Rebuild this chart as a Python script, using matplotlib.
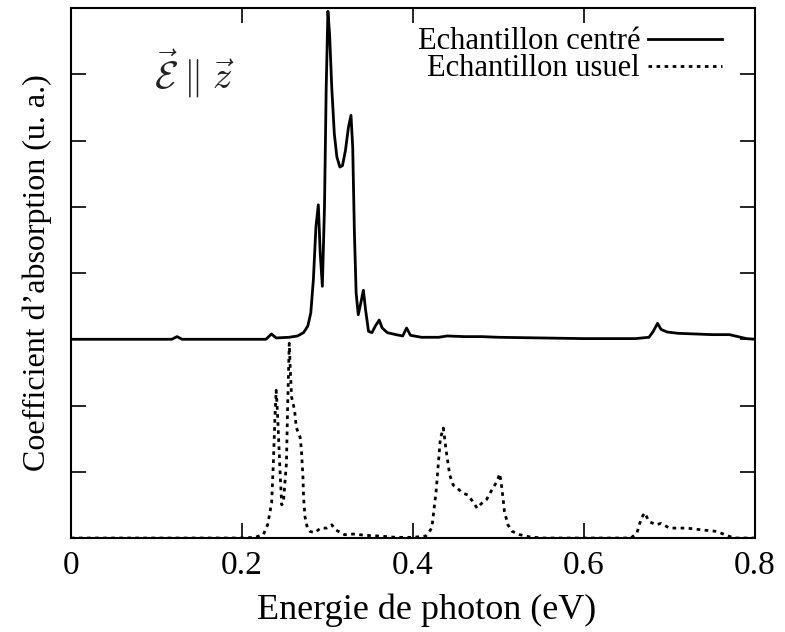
"""
Absorption spectra, E parallel to z: centred sample vs usual sample.
Output: out.png
"""

import matplotlib
matplotlib.use("Agg")
import matplotlib.pyplot as plt
from matplotlib.lines import Line2D

# Photon energy (eV) and absorption (a.u.), centred sample (offset by 3)
energy_centre = [
    0.0, 0.10, 0.118, 0.124, 0.13, 0.20, 0.228, 0.2345, 0.24, 0.255,
    0.265, 0.272, 0.277, 0.2805, 0.2835, 0.2865, 0.2893, 0.2915, 0.294, 0.2965,
    0.2985, 0.3005, 0.3025, 0.305, 0.308, 0.311, 0.3145, 0.3175, 0.321, 0.3245,
    0.3275, 0.3295, 0.3315, 0.3335, 0.336, 0.339, 0.342, 0.3445, 0.348, 0.352,
    0.356, 0.3605, 0.364, 0.37, 0.38, 0.388, 0.3925, 0.397, 0.41, 0.43,
    0.44, 0.46, 0.48, 0.50, 0.55, 0.60, 0.66, 0.676, 0.681, 0.686,
    0.69, 0.697, 0.71, 0.73, 0.75, 0.77, 0.78, 0.79, 0.80,
]
absorb_centre = [
    3.0, 3.0, 3.0, 3.04, 3.0, 3.0, 3.0, 3.08, 3.02, 3.03,
    3.05, 3.1, 3.2, 3.4, 3.9, 4.7, 5.03, 4.3, 3.8, 5.0,
    6.8, 7.95, 7.6, 6.8, 6.1, 5.75, 5.6, 5.62, 5.85, 6.2,
    6.38, 5.9, 4.6, 3.7, 3.37, 3.55, 3.74, 3.45, 3.12, 3.1,
    3.2, 3.29, 3.17, 3.1, 3.07, 3.05, 3.17, 3.06, 3.03, 3.03,
    3.05, 3.04, 3.04, 3.03, 3.02, 3.01, 3.01, 3.03, 3.12, 3.24,
    3.15, 3.11, 3.09, 3.08, 3.07, 3.07, 3.04, 3.01, 3.0,
]

# Usual sample
energy_usuel = [
    0.0, 0.20, 0.215, 0.225, 0.23, 0.2347, 0.2367, 0.2385, 0.2400, 0.2415,
    0.2444, 0.2465, 0.2485, 0.252, 0.2533, 0.2553, 0.2565, 0.258, 0.2615, 0.2635,
    0.268, 0.2695, 0.2713, 0.272, 0.2737, 0.2765, 0.2795, 0.285, 0.292, 0.299,
    0.305, 0.31, 0.32, 0.33, 0.345, 0.36, 0.38, 0.40, 0.415, 0.422,
    0.427, 0.432, 0.4355, 0.439, 0.443, 0.447, 0.452, 0.458, 0.464, 0.47,
    0.475, 0.48, 0.486, 0.492, 0.498, 0.5015, 0.504, 0.507, 0.511, 0.516,
    0.525, 0.535, 0.55, 0.60, 0.655, 0.662, 0.667, 0.671, 0.676, 0.684,
    0.69, 0.70, 0.72, 0.74, 0.755, 0.765, 0.775, 0.80,
]
absorb_usuel = [
    0.0, 0.0, 0.01, 0.05, 0.2, 0.53, 1.13, 1.8, 2.23, 1.9,
    1.03, 0.5, 0.55, 1.13, 1.93, 2.94, 2.54, 2.13, 1.93, 1.67,
    1.52, 1.33, 0.92, 0.62, 0.32, 0.15, 0.1, 0.08, 0.15, 0.15,
    0.2, 0.12, 0.05, 0.06, 0.04, 0.03, 0.01, 0.01, 0.03, 0.15,
    0.7, 1.5, 1.66, 1.3, 0.95, 0.8, 0.75, 0.68, 0.65, 0.55,
    0.45, 0.52, 0.58, 0.72, 0.85, 0.97, 0.75, 0.4, 0.2, 0.1,
    0.05, 0.02, 0.0, 0.0, 0.0, 0.08, 0.3, 0.38, 0.25, 0.2,
    0.22, 0.15, 0.15, 0.12, 0.1, 0.05, 0.0, 0.0,
]

x_ticks = [0, 0.2, 0.4, 0.6, 0.8]
x_tick_labels = ["0", "0.2", "0.4", "0.6", "0.8"]
y_ticks = [1, 2, 3, 4, 5, 6, 7]
legend_labels = ["Echantillon centré", "Echantillon usuel"]


def main():
    plt.rcParams["font.family"] = ["Liberation Serif", "DejaVu Serif"]
    plt.rcParams["mathtext.fontset"] = "cm"

    fig = plt.figure(figsize=(7.85, 6.32), dpi=100)
    ax = fig.add_axes([0.0904, 0.1487, 0.8714, 0.8386])

    dotted = (0, (1.3, 1.6))
    ax.plot(energy_centre, absorb_centre, color="black", lw=2.0)
    ax.plot(energy_usuel, absorb_usuel, color="black", lw=2.0, linestyle=dotted)

    ax.set_xlim(0, 0.8)
    ax.set_ylim(0, 8)
    ax.set_xticks(x_ticks)
    ax.set_xticklabels(x_tick_labels)
    ax.set_yticks(y_ticks)
    ax.set_yticklabels([])
    ax.tick_params(direction="in", length=11, width=1.2, top=True, right=True,
                   labelsize=24, pad=9)
    for spine in ax.spines.values():
        spine.set_linewidth(1.5)

    ax.set_xlabel("Energie de photon (eV)", fontsize=26, labelpad=9)
    ax.xaxis.label.set_x(0.52)
    ax.set_ylabel("Coefficient d\u2019absorption (u. a.)", fontsize=23, labelpad=5)

    ax.text(0.18, 0.875, r"$\vec{\mathcal{E}}\;\|\;\vec{z}$", transform=ax.transAxes,
            fontsize=28, ha="center", va="center", color="#222222")

    # hand-built legend: right-aligned text, sample line on the right
    styles = ["-", dotted]
    for i, (label, ls) in enumerate(zip(legend_labels, styles)):
        y = 0.937 - i * 0.051
        ax.text(0.832, y, label, transform=ax.transAxes, fontsize=22,
                ha="right", va="center")
        ax.add_line(Line2D([0.8436, 0.952], [y + 0.004, y + 0.004],
                           transform=ax.transAxes, color="black", lw=2.0,
                           linestyle=ls))

    fig.savefig("out.png", dpi=100)
    plt.close(fig)


if __name__ == "__main__":
    main()
